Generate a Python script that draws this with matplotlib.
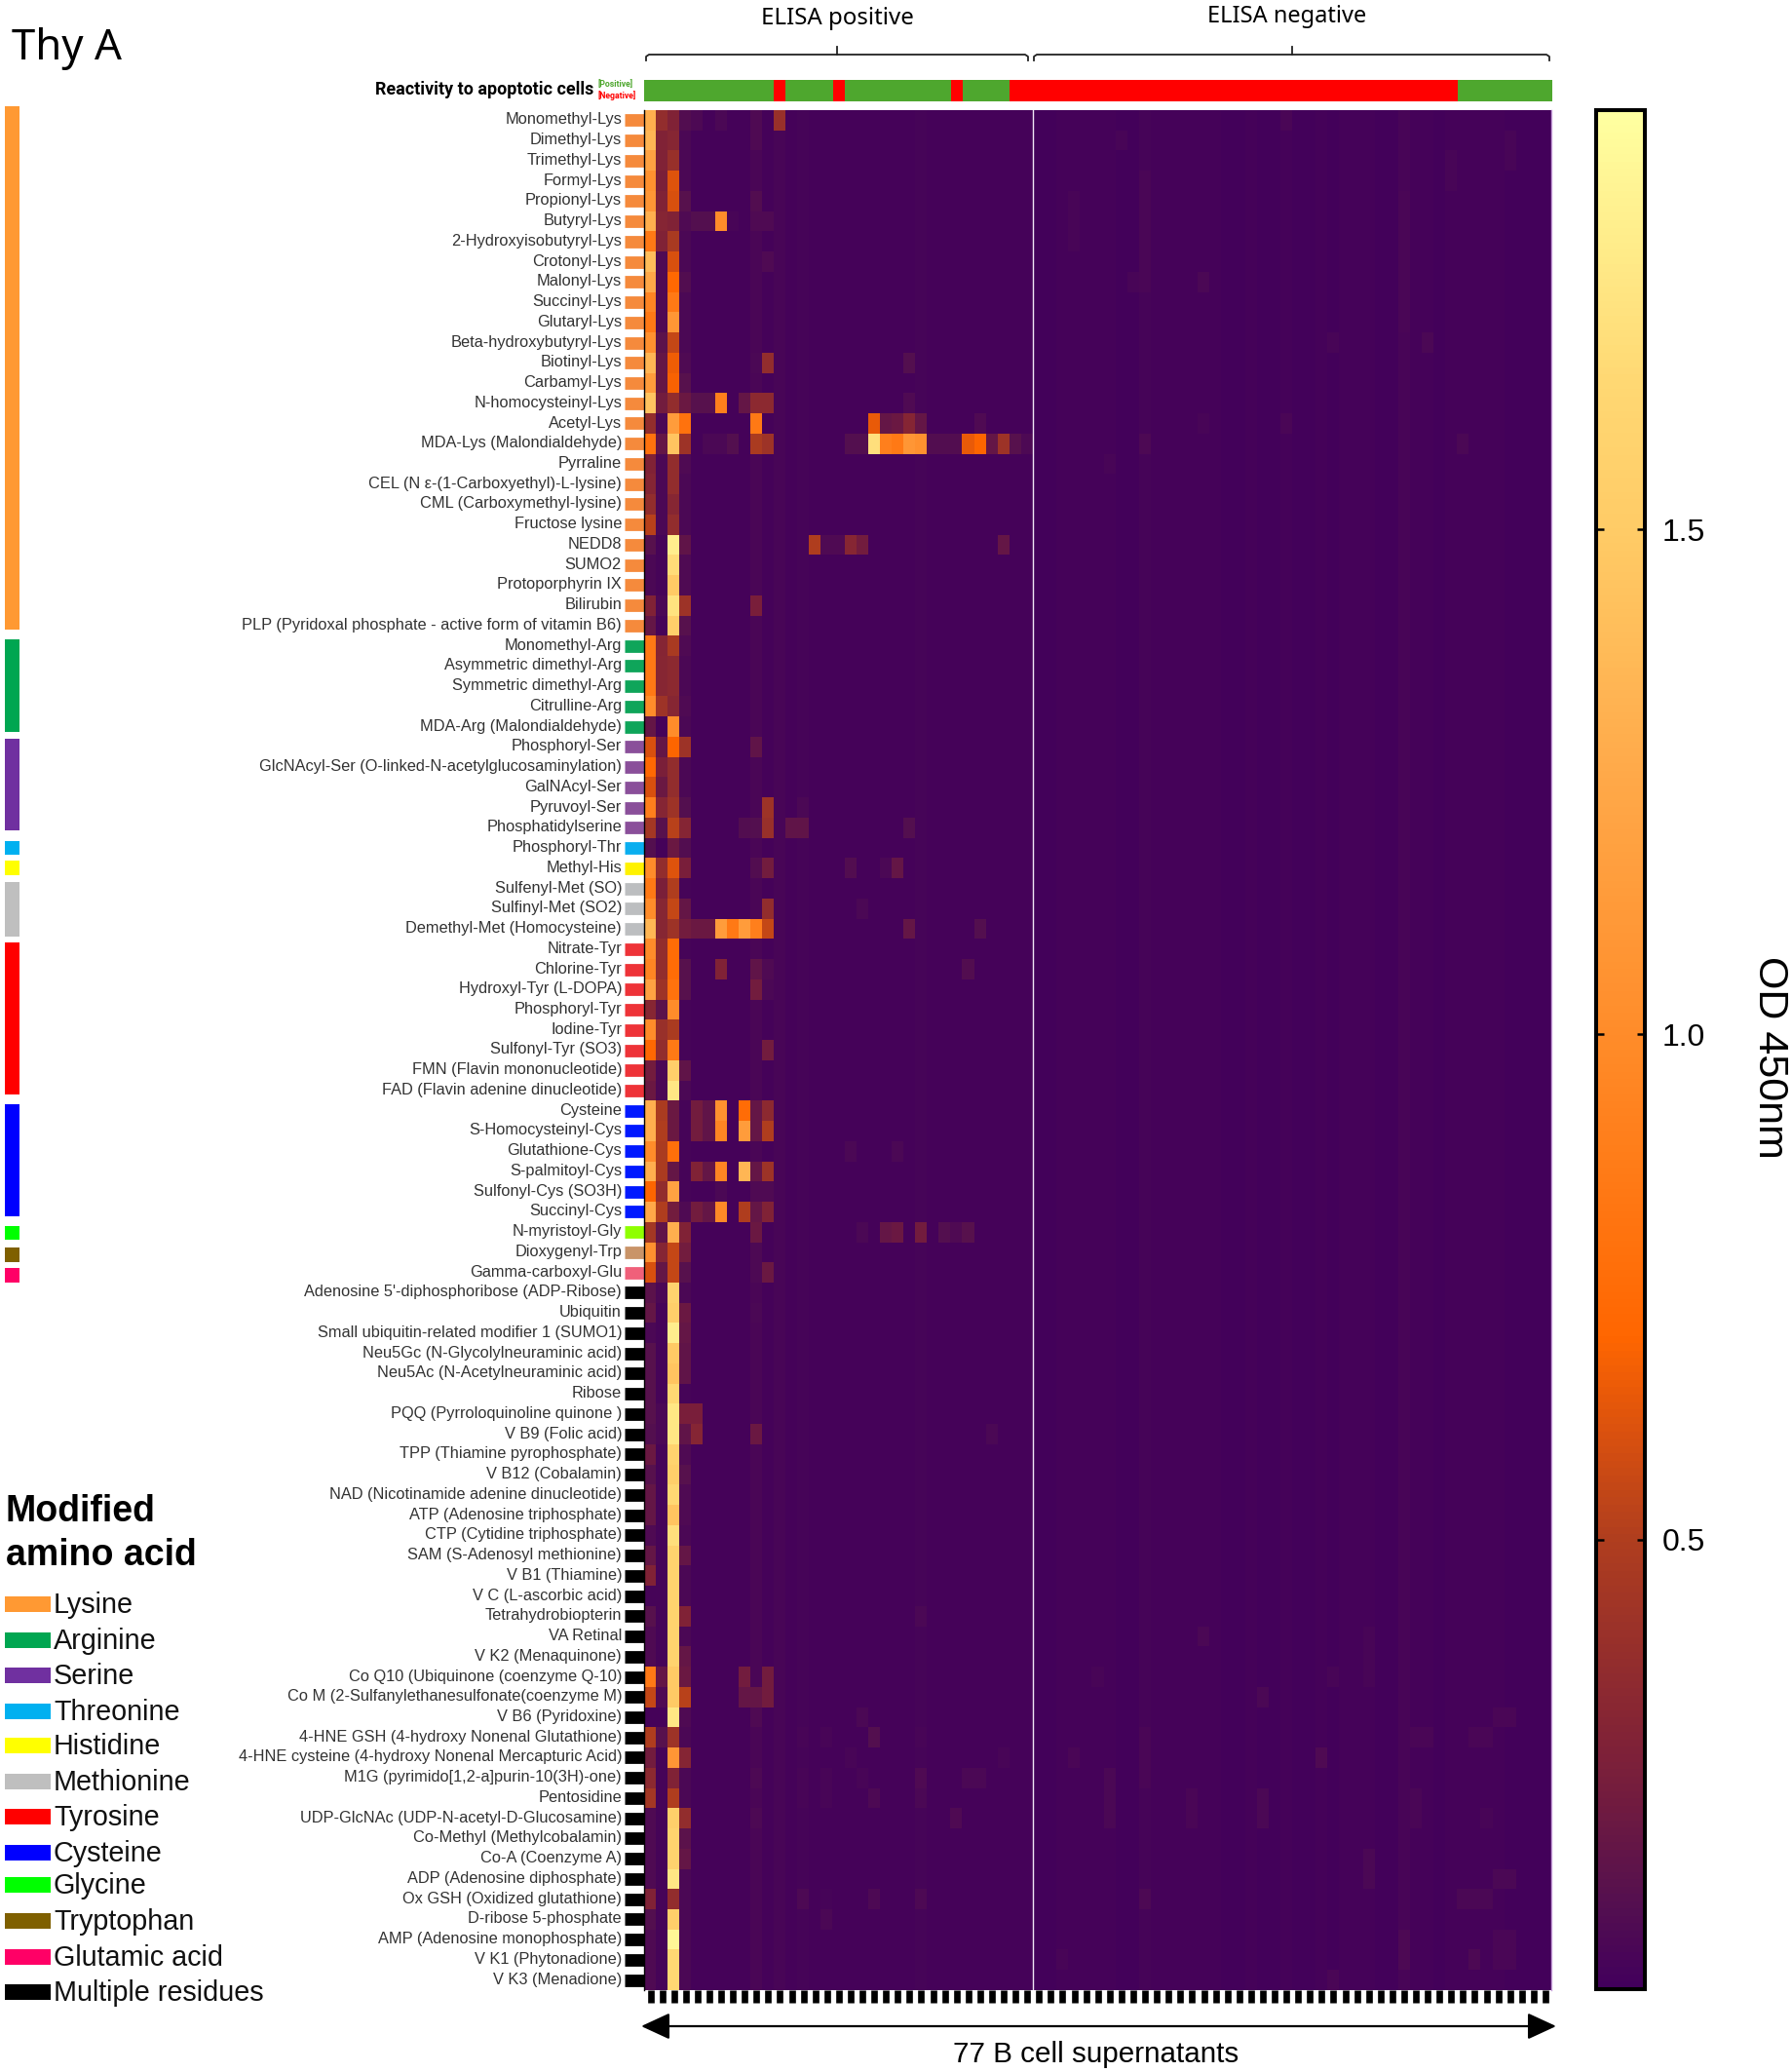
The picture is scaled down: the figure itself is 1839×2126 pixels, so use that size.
#!/usr/bin/env python3
"""Heatmap of 77 B cell supernatants against modified amino acids (Thy A)."""
import numpy as np
import matplotlib
matplotlib.use('Agg')
import matplotlib.pyplot as plt
from matplotlib.colors import LinearSegmentedColormap, ListedColormap, Normalize
from matplotlib.patches import Rectangle
from matplotlib.transforms import ScaledTranslation

W, H = 1840, 2126

labels_lys = ['Monomethyl-Lys', 'Dimethyl-Lys', 'Trimethyl-Lys', 'Formyl-Lys', 'Propionyl-Lys', 'Butyryl-Lys',
              '2-Hydroxyisobutyryl-Lys', 'Crotonyl-Lys', 'Malonyl-Lys', 'Succinyl-Lys', 'Glutaryl-Lys',
              'Beta-hydroxybutyryl-Lys', 'Biotinyl-Lys', 'Carbamyl-Lys', 'N-homocysteinyl-Lys', 'Acetyl-Lys',
              'MDA-Lys (Malondialdehyde)', 'Pyrraline', 'CEL (N ε-(1-Carboxyethyl)-L-lysine)',
              'CML (Carboxymethyl-lysine)', 'Fructose lysine', 'NEDD8', 'SUMO2', 'Protoporphyrin IX', 'Bilirubin',
              'PLP (Pyridoxal phosphate - active form of vitamin B6)']
labels_arg = ['Monomethyl-Arg', 'Asymmetric dimethyl-Arg', 'Symmetric dimethyl-Arg', 'Citrulline-Arg',
              'MDA-Arg (Malondialdehyde)']
labels_ser = ['Phosphoryl-Ser', 'GlcNAcyl-Ser (O-linked-N-acetylglucosaminylation)', 'GalNAcyl-Ser', 'Pyruvoyl-Ser',
              'Phosphatidylserine']
labels_thr = ['Phosphoryl-Thr']
labels_his = ['Methyl-His']
labels_met = ['Sulfenyl-Met (SO)', 'Sulfinyl-Met (SO2)', 'Demethyl-Met (Homocysteine)']
labels_tyr = ['Nitrate-Tyr', 'Chlorine-Tyr', 'Hydroxyl-Tyr (L-DOPA)', 'Phosphoryl-Tyr', 'Iodine-Tyr',
              'Sulfonyl-Tyr (SO3)', 'FMN (Flavin mononucleotide)', 'FAD (Flavin adenine dinucleotide)']
labels_cys = ['Cysteine', 'S-Homocysteinyl-Cys', 'Glutathione-Cys', 'S-palmitoyl-Cys', 'Sulfonyl-Cys (SO3H)',
              'Succinyl-Cys']
labels_gly = ['N-myristoyl-Gly']
labels_trp = ['Dioxygenyl-Trp']
labels_glu = ['Gamma-carboxyl-Glu']
labels_multi = ["Adenosine 5'-diphosphoribose (ADP-Ribose)", 'Ubiquitin', 'Small ubiquitin-related modifier 1 (SUMO1)',
                'Neu5Gc (N-Glycolylneuraminic acid)', 'Neu5Ac (N-Acetylneuraminic acid)', 'Ribose',
                'PQQ (Pyrroloquinoline quinone )', 'V B9 (Folic acid)', 'TPP (Thiamine pyrophosphate)',
                'V B12 (Cobalamin)', 'NAD (Nicotinamide adenine dinucleotide)', 'ATP (Adenosine triphosphate)',
                'CTP (Cytidine triphosphate)', 'SAM (S-Adenosyl methionine)', 'V B1 (Thiamine)',
                'V C (L-ascorbic acid)', 'Tetrahydrobiopterin', 'VA Retinal', 'V K2 (Menaquinone)',
                'Co Q10 (Ubiquinone (coenzyme Q-10)', 'Co M (2-Sulfanylethanesulfonate(coenzyme M)',
                'V B6 (Pyridoxine)', '4-HNE GSH (4-hydroxy Nonenal Glutathione)',
                '4-HNE cysteine (4-hydroxy Nonenal Mercapturic Acid)', 'M1G (pyrimido[1,2-a]purin-10(3H)-one)',
                'Pentosidine', 'UDP-GlcNAc (UDP-N-acetyl-D-Glucosamine)', 'Co-Methyl (Methylcobalamin)',
                'Co-A (Coenzyme A)', 'ADP (Adenosine diphosphate)', 'Ox GSH (Oxidized glutathione)',
                'D-ribose 5-phosphate', 'AMP (Adenosine monophosphate)', 'V K1 (Phytonadione)', 'V K3 (Menadione)']

label_groups = [labels_lys, labels_arg, labels_ser, labels_thr, labels_his, labels_met, labels_tyr, labels_cys,
                labels_gly, labels_trp, labels_glu, labels_multi]
tab_colors = ['#f58a3c', '#0fa55a', '#8a4f9a', '#0aaeef', '#fff200', '#bcbec0', '#ee3338', '#0018ff', '#8fff00',
              '#c99468', '#f0607a', '#000000']

legend_names = ['Lysine', 'Arginine', 'Serine', 'Threonine', 'Histidine', 'Methionine', 'Tyrosine', 'Cysteine',
                'Glycine', 'Tryptophan', 'Glutamic acid', 'Multiple residues']
legend_colors = ['#ff9933', '#00a651', '#7030a0', '#00b0f0', '#ffff00', '#bfbfbf', '#ff0000', '#0000ff', '#00ff00',
                 '#7f6000', '#ff0066', '#000000']

# OD readings of the four leftmost supernatants, one value per row
col0 = [1.30, 1.35, 1.20, 1.05, 1.10, 1.30, 0.85, 1.40, 1.25, 0.95, 0.85, 1.05, 1.35, 1.15, 1.45, 0.38, 0.80, 0.30,
        0.32, 0.38, 0.52, 0.15, 0.10, 0.10, 0.30, 0.20,
        0.85, 0.85, 0.85, 1.00, 0.20, 0.60, 0.72, 0.60, 0.90, 0.45, 0.14, 1.00, 0.85, 1.00, 1.35,
        1.00, 0.95, 1.20, 0.33, 1.00, 0.72, 0.25, 0.22, 1.30, 1.30, 1.00, 1.30, 0.70, 1.25, 0.45, 1.05, 0.60,
        0.17, 0.20, 0.10, 0.15, 0.15, 0.15, 0.15, 0.14, 0.22, 0.15, 0.20, 0.20, 0.12, 0.20, 0.30, 0.08, 0.15, 0.12,
        0.12, 0.85, 0.55, 0.07, 0.50, 0.25, 0.35, 0.45, 0.12, 0.12, 0.12, 0.12, 0.30, 0.14, 0.12, 0.12, 0.12]
col1 = [0.38, 0.30, 0.30, 0.28, 0.30, 0.32, 0.30, 0.12, 0.12, 0.12, 0.12, 0.17, 0.20, 0.20, 0.25, 0.10, 0.20, 0.10,
        0.10, 0.10, 0.10, 0.08, 0.08, 0.08, 0.10, 0.08,
        0.32, 0.33, 0.33, 0.42, 0.07, 0.20, 0.28, 0.22, 0.32, 0.15, 0.07, 0.38, 0.28, 0.33, 0.33,
        0.38, 0.38, 0.42, 0.17, 0.40, 0.38, 0.10, 0.10, 0.48, 0.50, 0.48, 0.48, 0.38, 0.50, 0.18, 0.32, 0.20,
        0.10, 0.08, 0.08, 0.08, 0.08, 0.08, 0.10, 0.10, 0.08, 0.08, 0.08, 0.08, 0.08, 0.08, 0.08, 0.08, 0.08, 0.08,
        0.08, 0.20, 0.12, 0.07, 0.15, 0.08, 0.08, 0.08, 0.08, 0.08, 0.08, 0.08, 0.08, 0.08, 0.08, 0.08, 0.08]
col2 = [0.30, 0.33, 0.40, 0.62, 0.60, 0.30, 0.47, 0.60, 0.72, 0.85, 1.10, 0.55, 0.66, 0.68, 0.38, 1.15, 1.45, 0.38,
        0.38, 0.33, 0.38, 1.80, 1.68, 1.50, 1.72, 1.55,
        0.47, 0.35, 0.35, 0.33, 1.00, 0.70, 0.38, 0.38, 0.42, 0.52, 0.22, 0.62, 0.50, 0.55, 0.42,
        0.75, 0.75, 0.80, 1.00, 0.48, 0.85, 1.55, 1.75, 0.22, 0.22, 0.78, 0.20, 1.20, 0.25, 1.30, 0.55, 0.55,
        1.60, 1.55, 1.80, 1.50, 1.45, 1.65, 1.75, 1.75, 1.60, 1.55, 1.65, 1.45, 1.70, 1.60, 1.60, 1.60, 1.60, 1.60,
        1.60, 1.50, 1.50, 1.75, 0.42, 1.10, 0.30, 0.50, 1.55, 1.60, 1.60, 1.75, 0.38, 1.55, 1.85, 1.65, 1.65]
col3 = [0.13, 0.10, 0.10, 0.10, 0.15, 0.12, 0.10, 0.10, 0.13, 0.10, 0.10, 0.10, 0.12, 0.15, 0.22, 0.80, 0.42, 0.12,
        0.10, 0.10, 0.10, 0.18, 0.12, 0.12, 0.42, 0.15,
        0.12, 0.10, 0.10, 0.12, 0.10, 0.42, 0.10, 0.10, 0.14, 0.32, 0.13, 0.27, 0.08, 0.20, 0.25,
        0.08, 0.15, 0.15, 0.08, 0.08, 0.08, 0.18, 0.10, 0.08, 0.08, 0.08, 0.08, 0.08, 0.12, 0.30, 0.25, 0.15,
        0.10, 0.22, 0.20, 0.18, 0.18, 0.08, 0.27, 0.18, 0.12, 0.15, 0.12, 0.12, 0.10, 0.20, 0.10, 0.10, 0.30, 0.10,
        0.20, 0.22, 0.52, 0.12, 0.10, 0.32, 0.10, 0.10, 0.38, 0.17, 0.20, 0.10, 0.10, 0.10, 0.10, 0.10, 0.10]

# faint level of each remaining column (index 4..76)
column_base = [0.07, 0.07, 0.07, 0.075, 0.07, 0.095, 0.07, 0.085, 0.07, 0.08, 0.07, 0.075, 0.07, 0.07, 0.075, 0.075,
               0.075, 0.07, 0.07, 0.08, 0.07, 0.07, 0.07, 0.075, 0.07, 0.07, 0.07, 0.07, 0.075,
               0.065, 0.065, 0.07, 0.075, 0.07, 0.075, 0.075, 0.065, 0.065, 0.08, 0.07, 0.07, 0.07, 0.07, 0.075, 0.07,
               0.065, 0.065, 0.07, 0.065, 0.065, 0.07, 0.065, 0.065, 0.07, 0.065, 0.07, 0.07, 0.075, 0.065, 0.065,
               0.085, 0.07, 0.07, 0.065, 0.07, 0.07, 0.07, 0.07, 0.07, 0.065, 0.065, 0.065, 0.065]

# (row, column, OD) for cells that stand out
strong_cells = [
    (0, 4, .11), (0, 6, .10), (0, 9, .12), (0, 11, .40), (1, 9, .12), (4, 9, .13),
    (5, 4, .14), (5, 5, .14), (5, 6, 1.0), (5, 7, .09), (5, 9, .12), (5, 10, .12), (7, 10, .12),
    (12, 9, .10), (12, 10, .38), (12, 22, .14),
    (14, 4, .15), (14, 5, .15), (14, 6, .90), (14, 8, .20), (14, 9, .35), (14, 10, .35), (14, 22, .12),
    (15, 9, .85), (15, 19, .65), (15, 20, .20), (15, 21, .22), (15, 22, .32), (15, 23, .20), (15, 28, .12),
    (16, 5, .10), (16, 6, .10), (16, 7, .14), (16, 9, .48), (16, 10, .42), (16, 17, .14), (16, 18, .14),
    (16, 19, 1.70), (16, 20, .90), (16, 21, .85), (16, 22, 1.10), (16, 23, 1.05), (16, 24, .13), (16, 25, .13),
    (16, 26, .13), (16, 27, .65), (16, 28, .70), (16, 29, .20), (16, 30, .42), (16, 31, .15), (16, 32, .10),
    (21, 14, .50), (21, 15, .12), (21, 16, .12), (21, 17, .33), (21, 18, .25), (21, 30, .20),
    (24, 9, .27), (31, 9, .18),
    (34, 10, .42), (34, 13, .10), (35, 8, .13), (35, 9, .14), (35, 10, .40), (35, 12, .18), (35, 13, .18), (35, 22, .14),
    (37, 9, .13), (37, 10, .25), (37, 17, .13), (37, 20, .10), (37, 21, .20), (39, 10, .38), (39, 18, .10),
    (40, 4, .22), (40, 5, .22), (40, 6, 1.15), (40, 7, .85), (40, 8, 1.15), (40, 9, .90), (40, 10, .55),
    (40, 22, .20), (40, 28, .14),
    (42, 6, .30), (42, 9, .18), (42, 10, .12), (42, 27, .13), (43, 9, .25), (43, 10, .10), (46, 10, .25),
]
cysteine_cells = [
    (49, 4, .25), (49, 5, .18), (49, 6, 1.05), (49, 8, .75), (49, 9, .20), (49, 10, .35),
    (50, 4, .25), (50, 5, .18), (50, 6, .95), (50, 8, 1.15), (50, 9, .20), (50, 10, .50),
    (51, 17, .10), (51, 21, .10),
    (52, 4, .30), (52, 5, .20), (52, 6, .95), (52, 8, 1.35), (52, 9, .20), (52, 10, .42),
    (53, 6, .10), (53, 9, .12), (53, 10, .12),
    (54, 4, .25), (54, 5, .20), (54, 6, .98), (54, 8, .50), (54, 9, .20), (54, 10, .30),
    (55, 9, .22), (55, 18, .10), (55, 20, .20), (55, 21, .22), (55, 23, .25), (55, 25, .14), (55, 26, .12), (55, 27, .15),
    (56, 9, .11), (57, 9, .11), (57, 10, .22),
]
multi_cells = [
    (59, 9, .10), (64, 4, .27), (65, 4, .32), (65, 9, .22), (65, 29, .10), (74, 23, .10),
    (77, 8, .25), (77, 10, .25), (78, 8, .20), (78, 9, .20), (78, 10, .25), (79, 9, .12), (79, 18, .10),
    (80, 13, .09), (80, 15, .09), (80, 19, .14), (80, 23, .09), (81, 17, .09), (81, 30, .09), (81, 13, .08),
    (82, 9, .11), (82, 13, .09), (82, 15, .09), (82, 18, .09), (82, 23, .12), (82, 27, .10), (82, 28, .10),
    (83, 13, .09), (83, 15, .09), (83, 19, .11), (83, 23, .10), (84, 9, .11), (84, 26, .12),
    (88, 13, .11), (88, 15, .08), (88, 19, .11), (88, 23, .11), (89, 15, .10),
]
# ELISA negative side, all very faint
faint_cells = [
    (0, 54, .095), (1, 40, .085), (4, 36, .09), (5, 36, .09), (6, 36, .09), (3, 42, .095), (4, 42, .095), (5, 42, .095),
    (6, 42, .095), (7, 42, .095), (8, 42, .095), (4, 64, .095), (5, 64, .095), (6, 64, .095), (7, 64, .095), (8, 64, .095),
    (9, 64, .095), (10, 64, .095), (2, 68, .085), (3, 68, .085), (1, 73, .085), (2, 73, .085), (8, 47, .10), (8, 41, .09),
    (11, 66, .10), (11, 58, .09), (15, 47, .09), (15, 54, .095), (16, 42, .11), (16, 69, .10), (16, 32, .11),
    (17, 39, .085), (75, 47, .10), (77, 38, .09), (75, 61, .09), (76, 61, .09), (77, 61, .09), (77, 58, .085),
    (78, 52, .10), (79, 73, .095), (79, 72, .095), (80, 65, .095), (80, 66, .095), (80, 70, .095), (80, 71, .095),
    (80, 42, .095), (81, 42, .095), (82, 42, .095), (81, 36, .095), (81, 57, .115), (82, 39, .10), (83, 39, .10),
    (84, 39, .10), (83, 46, .095), (84, 46, .095), (83, 52, .10), (84, 52, .10), (83, 65, .095), (84, 65, .095),
    (84, 71, .09), (86, 61, .10), (87, 61, .10), (87, 72, .105), (87, 73, .105), (88, 42, .11), (88, 69, .10),
    (88, 70, .10), (88, 71, .10), (90, 64, .11), (91, 64, .11), (90, 72, .095), (90, 73, .095), (91, 72, .095),
    (91, 73, .095), (91, 70, .11), (91, 35, .09), (92, 58, .095),
]

# 1 = positive, 0 = negative reactivity to apoptotic cells
reactivity = [1] * 11 + [0] + [1] * 4 + [0] + [1] * 9 + [0] + [1] * 4 + [0] * 38 + [1] * 8

cbar_ticks = [0.5, 1.0, 1.5]
od_min, od_max = 0.055, 1.915

# colours
cmap_levels = [0.055, 0.14, 0.27, 0.5, 0.6, 0.7, 1.0, 1.25, 1.5, 1.65, 1.915]
cmap_colors = ['#42005c', '#55104f', '#7a1f3a', '#b03e1e', '#d8500f', '#ff6600', '#ff8c2a', '#ffa848', '#ffcb66',
               '#ffd873', '#ffffa0']

# span of the strip at the far left, top and bottom in pixels
strip_spans = [(109, 646), (656, 751), (758, 852), (863, 877), (883, 898), (905, 961), (967, 1123), (1133, 1248),
               (1258, 1272), (1280, 1295), (1301, 1316)]
legend_y = [1646, 1683, 1719, 1756, 1791, 1828, 1864, 1901, 1934, 1971, 2008, 2044]

labels = [name for group in label_groups for name in group]
row_colors = [c for group, c in zip(label_groups, tab_colors) for _ in group]
n_rows, n_cols = len(labels), 77

data = np.zeros((n_rows, n_cols))
data[:, 0] = col0
data[:, 1] = col1
data[:, 2] = col2
data[:, 3] = col3
data[:, 4:] = column_base
for row, col, val in strong_cells + cysteine_cells + multi_cells + faint_cells:
    data[row, col] = val

cmap = LinearSegmentedColormap.from_list(
    'od', [((v - od_min) / (od_max - od_min), c) for v, c in zip(cmap_levels, cmap_colors)])
norm = Normalize(od_min, od_max)


def px_axes(x0, y0, x1, y1):
    return fig.add_axes([x0 / W, 1 - y1 / H, (x1 - x0) / W, (y1 - y0) / H])


plt.rcParams['font.family'] = ['Liberation Sans', 'DejaVu Sans']
fig = plt.figure(figsize=(W / 100, H / 100), dpi=100)

# overlay in pixel coordinates for the annotations
over = fig.add_axes([0, 0, 1, 1])
over.set_xlim(0, W)
over.set_ylim(H, 0)
over.axis('off')

HM_L, HM_R, HM_T, HM_B = 661.5, 1592, 113, 2042

ax = px_axes(HM_L, HM_T, HM_R, HM_B)
im = ax.imshow(data, cmap=cmap, norm=norm, aspect='auto', interpolation='nearest')
ax.axvline(32.5, color='#f0e6f5', lw=1.0)

for name, spine in ax.spines.items():
    spine.set_visible(name in ('left', 'right'))
ax.spines['left'].set_color('black')
ax.spines['left'].set_linewidth(1.0)
ax.spines['right'].set_color('#c9a0dc')
ax.spines['right'].set_linewidth(1.0)

ax.set_yticks(range(n_rows))
ax.set_yticklabels(labels, fontsize=11.8, color='#333333')
ax.tick_params(axis='y', length=14.4, width=9.2, pad=2.5)
lift = ScaledTranslation(0, 2 / 100, fig.dpi_scale_trans)
for tick, c in zip(ax.yaxis.get_major_ticks(), row_colors):
    tick.tick1line.set_markeredgecolor(c)
    tick.label1.set_transform(tick.label1.get_transform() + lift)
ax.set_xticks(range(n_cols))
ax.set_xticklabels([])
ax.tick_params(axis='x', length=9.5, width=4.8, pad=0, color='black')

# reactivity strip above the heatmap
bar = px_axes(HM_L, 82, HM_R + 1, 104)
bar.imshow([reactivity], cmap=ListedColormap(['#ff0000', '#4ea72e']), vmin=0, vmax=1, aspect='auto',
           interpolation='nearest')
bar.axis('off')

over.text(609, 92, 'Reactivity to apoptotic cells', ha='right', va='center', fontsize=12.9, fontweight='bold',
          family=['Roboto', 'DejaVu Sans'], color='black')
over.text(614, 87, '[Positive]', ha='left', va='center', fontsize=6.3, fontweight='bold', color='#4ea72e',
          family=['Roboto', 'DejaVu Sans'])
over.text(614, 98, '[Negative]', ha='left', va='center', fontsize=6.3, fontweight='bold', color='#ff0000',
          family=['Roboto', 'DejaVu Sans'])

# braces over the two ELISA groups
for x0, x1, xm in [(663, 1055, 859), (1061, 1590, 1326)]:
    over.plot([x0, x0, x0 + 3, x1 - 3, x1, x1], [62, 58, 56, 56, 58, 62], color='#222222', lw=1.3)
    over.plot([xm, xm], [48, 56], color='#222222', lw=1.3)
over.text(859, 19, 'ELISA positive', ha='center', va='center', fontsize=17.3, family=['Noto Sans', 'DejaVu Sans'])
over.text(1321, 17, 'ELISA negative', ha='center', va='center', fontsize=17, family=['Noto Sans', 'DejaVu Sans'])
over.text(12, 50, 'Thy A', ha='left', va='center', fontsize=31.5, family=['Noto Sans', 'DejaVu Sans'])

# group strip at the far left
for (y0, y1), c in zip(strip_spans, legend_colors):
    over.add_patch(Rectangle((5, y0), 15, y1 - y0, color=c, lw=0))

# legend
over.text(6, 1551, 'Modified', ha='left', va='center', fontsize=27, fontweight='bold')
over.text(6, 1596, 'amino acid', ha='left', va='center', fontsize=27, fontweight='bold')
for y, name, c in zip(legend_y, legend_names, legend_colors):
    over.add_patch(Rectangle((5, y - 8), 47, 16, color=c, lw=0))
    over.text(55, y + 1, name, ha='left', va='center', fontsize=20.7, color='#111111')

# arrow under the heatmap
over.annotate('', xy=(1597, 2079), xytext=(658, 2079),
              arrowprops=dict(arrowstyle='<|-|>,head_length=1.3,head_width=0.6', color='black', lw=1.6,
                              shrinkA=0, shrinkB=0, mutation_scale=14))
over.text(1125, 2108, '77 B cell supernatants', ha='center', va='center', fontsize=21.3)

# colour bar
cax = px_axes(1638, 113, 1688, 2041)
cb = fig.colorbar(im, cax=cax, ticks=cbar_ticks)
cb.outline.set_linewidth(2.9)
cb.outline.set_edgecolor('black')
cax.tick_params(axis='y', direction='in', left=True, right=True, length=6, width=1.8, pad=13, labelsize=23)
cax.set_yticklabels(['0.5', '1.0', '1.5'])
over.text(1816, 1085, 'OD 450nm', rotation=-90, ha='center', va='center', fontsize=31)

fig.savefig('out.png', dpi=100)
